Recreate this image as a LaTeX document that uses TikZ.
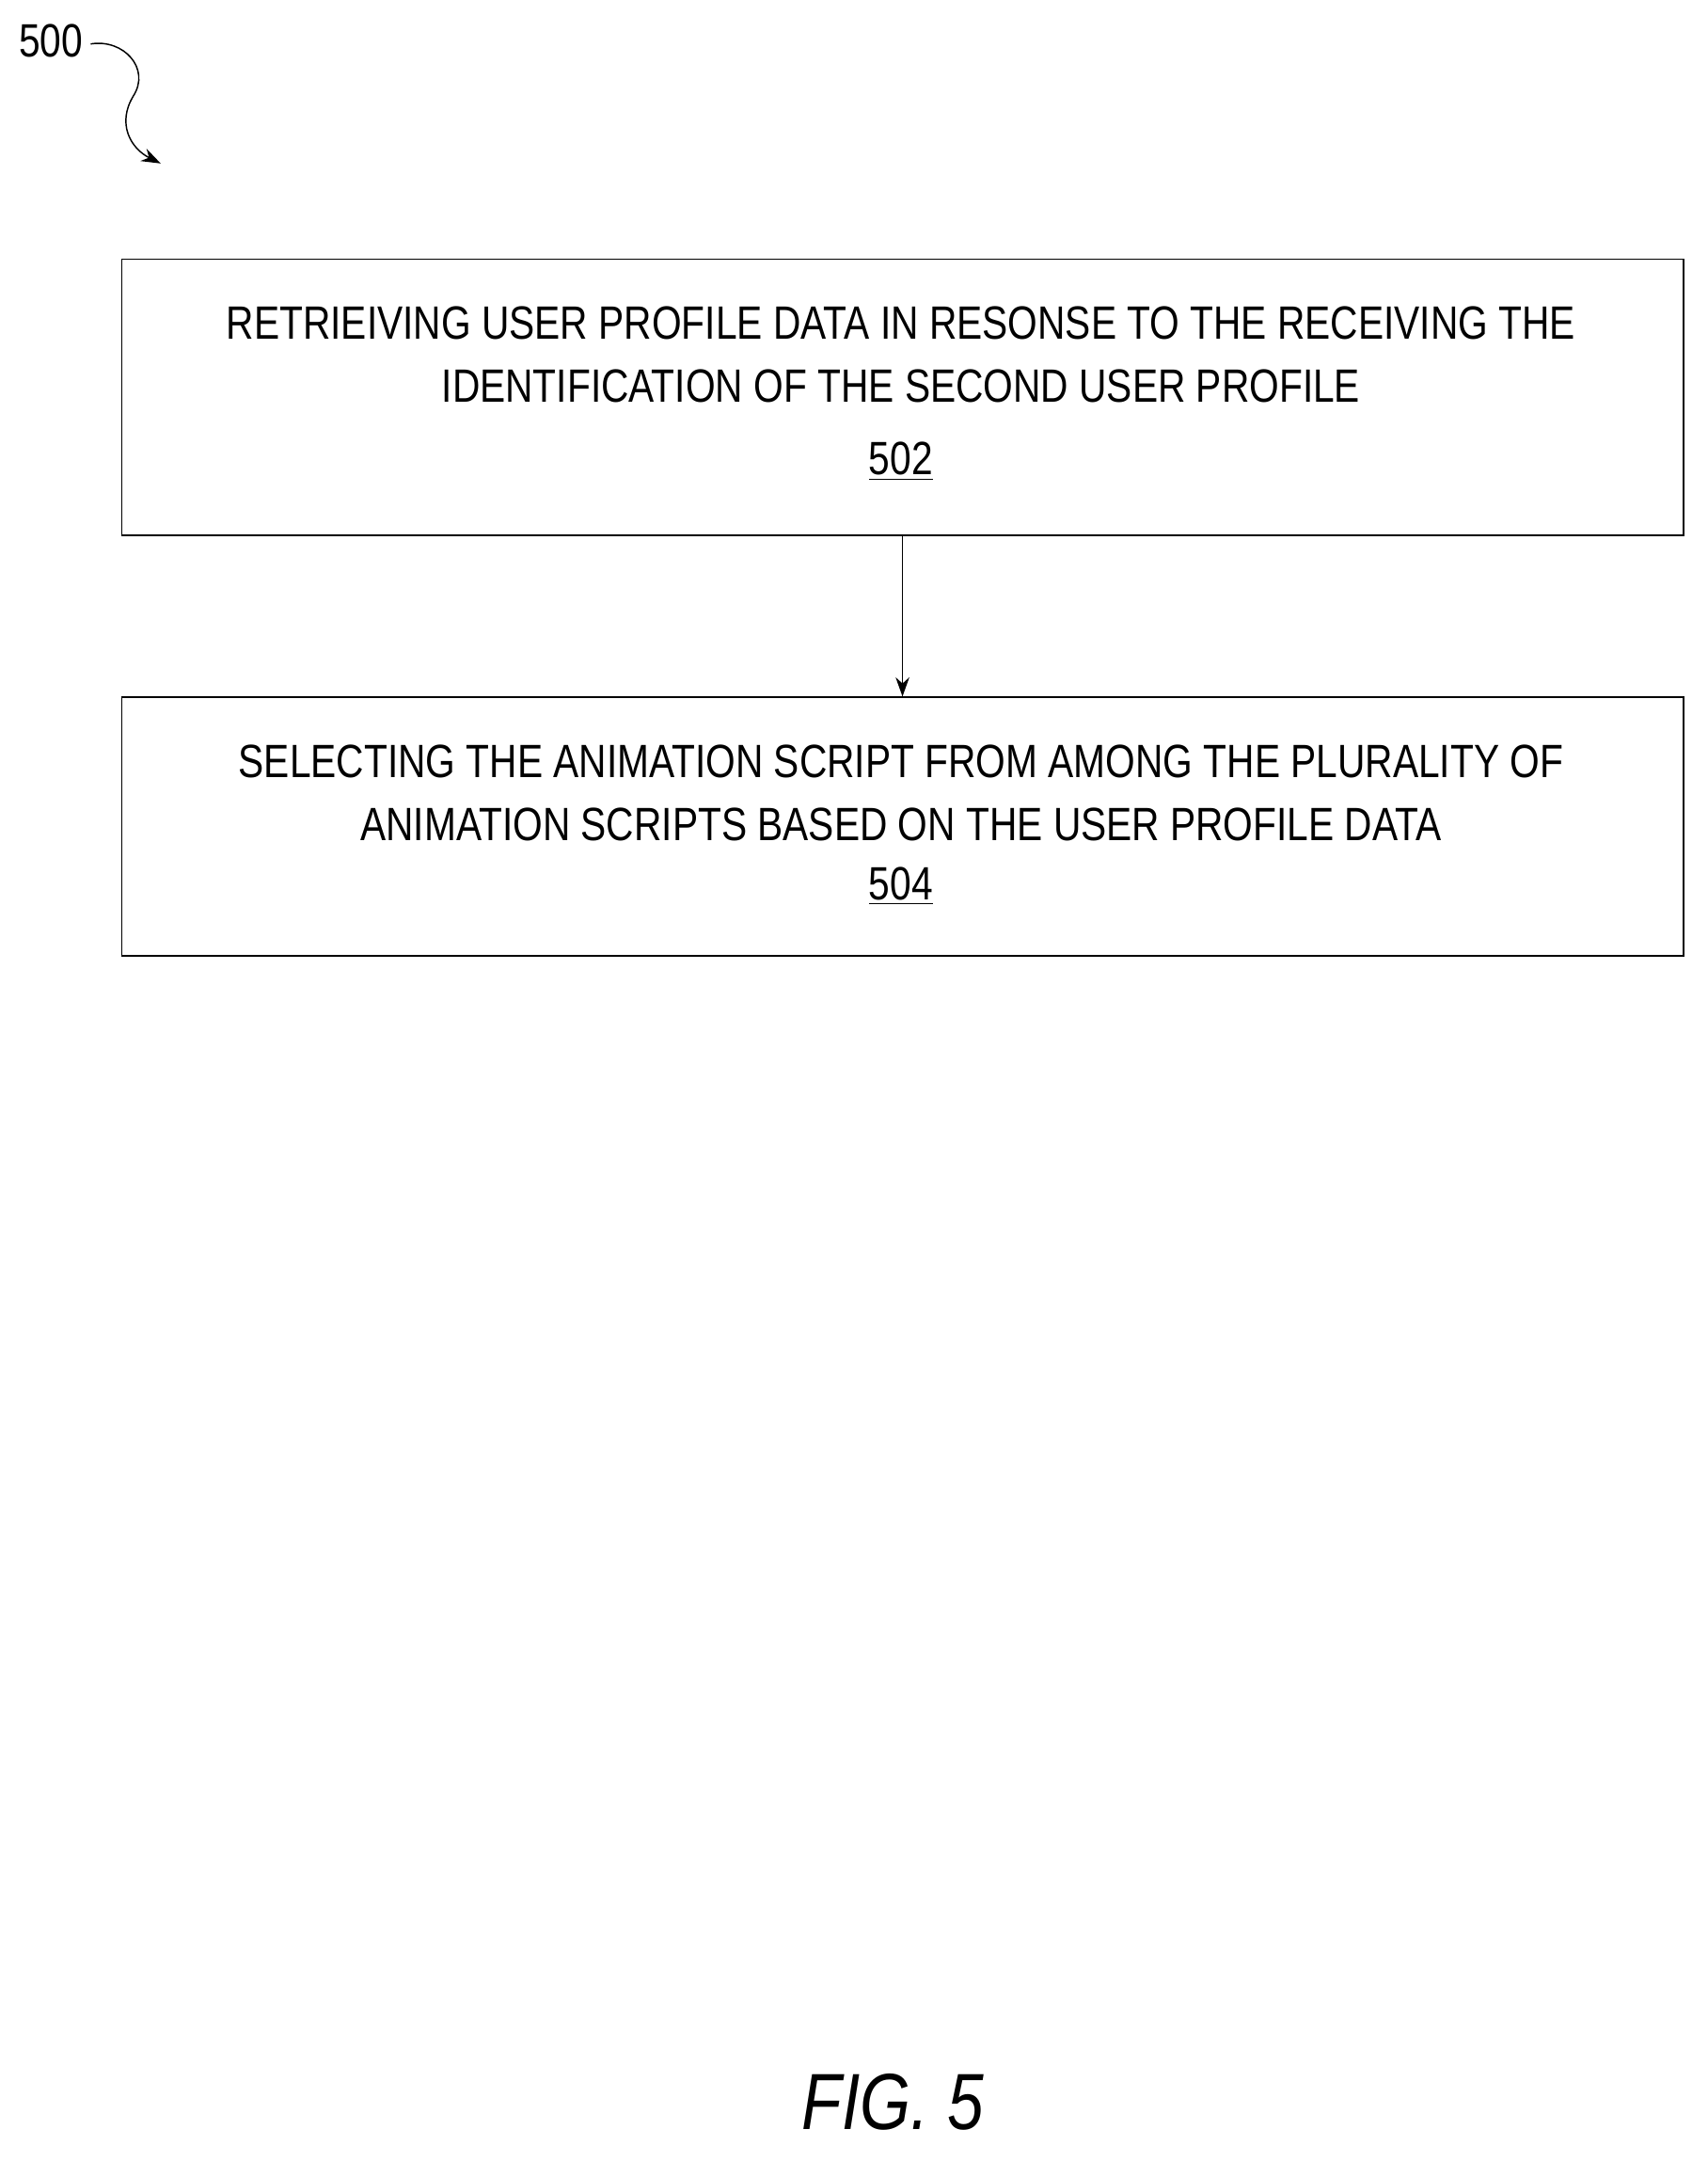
\documentclass[tikz,border=0pt]{standalone}
\usepackage{fontspec}
\setmainfont[FakeStretch=0.82]{Liberation Sans}
\usetikzlibrary{arrows.meta}
\begin{document}
\begin{tikzpicture}[x=0.5pt,y=-0.5pt,
  box/.style={draw,line width=0.6pt},
  txt/.style={align=center,font=\fontsize{17}{23}\selectfont},
  arr/.style={-{Stealth[length=7pt,width=5pt]},line width=0.5pt}]
\useasboundingbox (0,0) rectangle (1243,1573);
\node[box,minimum width=568.5pt,minimum height=100.5pt,anchor=north west] (b1) at (88,188) {};
\node[txt] (t1) at (656,258) {RETRIEIVING USER PROFILE DATA IN RESONSE TO THE RECEIVING THE\\IDENTIFICATION OF THE SECOND USER PROFILE};
\node[txt] (n1) at (656,336) {\underline{502}};
\node[box,minimum width=568.5pt,minimum height=94pt,anchor=north west] (b2) at (88,507) {};
\node[txt] (t2) at (656,577) {SELECTING THE ANIMATION SCRIPT FROM AMONG THE PLURALITY OF\\ANIMATION SCRIPTS BASED ON THE USER PROFILE DATA};
\node[txt] (n2) at (656,645) {\underline{504}};
\draw[arr] (b1.south) -- (b2.north);
\node[txt] (l500) at (37,30) {500};
\coordinate (s1) at (66,32);
\coordinate (s2) at (117,119);
\draw[arr] (s1) .. controls (90,28) and (110,50) .. (97,70) .. controls (85,90) and (95,108) .. (s2);
\node[font=\fontsize{29}{32}\selectfont\itshape] (fig) at (650,1530) {FIG. 5};
\end{tikzpicture}
\end{document}
